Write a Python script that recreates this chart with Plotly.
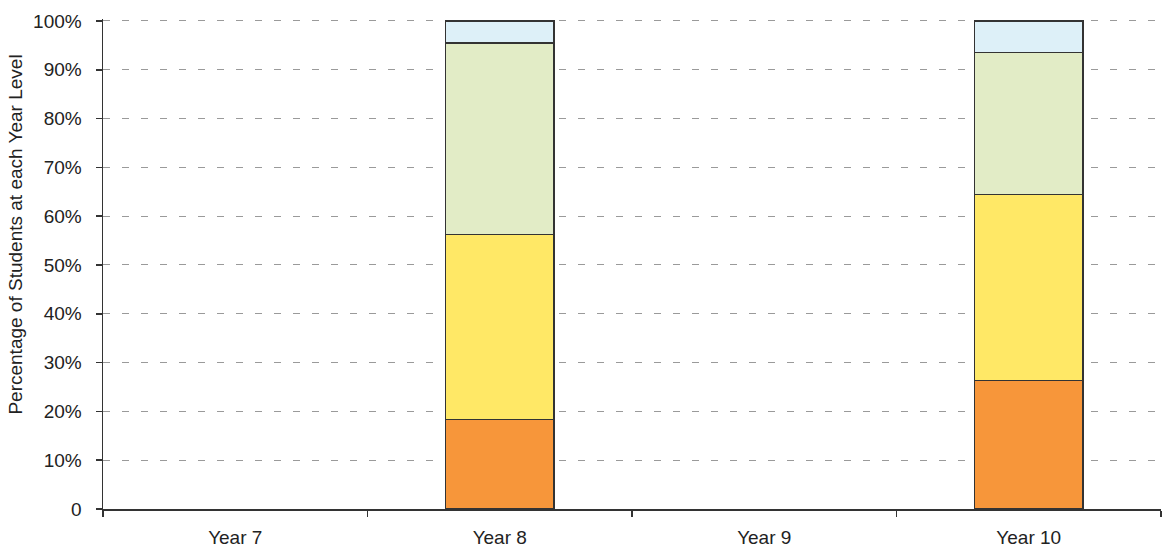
import plotly.graph_objects as go

categories = ["Year 7", "Year 8", "Year 9", "Year 10"]
band1 = [None, 18.4, None, 26.3]   # orange
band2 = [None, 37.9, None, 38.2]   # yellow
band3 = [None, 39.2, None, 29.0]   # light green
band4 = [None, 4.5, None, 6.5]     # light blue
y_tickvals = [0, 10, 20, 30, 40, 50, 60, 70, 80, 90, 100]
y_ticktext = ["0", "10%", "20%", "30%", "40%", "50%", "60%", "70%", "80%", "90%", "100%"]

colors = ["#F7963A", "#FFE866", "#E2ECC6", "#DDF0F8"]
FONT = "Liberation Sans, Arial, sans-serif"

fig = go.Figure()
for vals, col in zip([band1, band2, band3, band4], colors):
    fig.add_trace(go.Bar(
        x=categories, y=vals, marker=dict(color=col, line=dict(color="#333333", width=1.2)),
        width=0.41, showlegend=False, hoverinfo="skip",
    ))

fig.update_layout(
    barmode="stack",
    width=1162, height=549,
    margin=dict(l=103, r=1, t=19, b=40),
    plot_bgcolor="white", paper_bgcolor="white",
    font=dict(family=FONT, size=19, color="#222222"),
    xaxis=dict(
        type="category", range=[-0.5, 3.5], automargin=False,
        showline=True, linecolor="#333333", linewidth=1.5,
        ticks="outside", tickson="boundaries", ticklen=6, tickcolor="#333333", tickwidth=1.5,
        showgrid=False, tickfont=dict(size=19), fixedrange=True, ticklabelstandoff=11,
    ),
    yaxis=dict(
        range=[0, 100.4], tickvals=y_tickvals, ticktext=y_ticktext, automargin=False,
        showline=True, linecolor="#333333", linewidth=1.5,
        ticks="outside", ticklen=6, tickcolor="#333333", tickwidth=1.5,
        showgrid=True, gridcolor="#9a9a9a", griddash="7px,12px", gridwidth=1,
        zeroline=False, tickfont=dict(size=19), ticklabelstandoff=10, fixedrange=True,
    ),
    annotations=[dict(
        text="Percentage of Students at each Year Level", textangle=-90,
        xref="paper", yref="paper", x=0, y=0.56, xanchor="center", yanchor="middle",
        xshift=-87, showarrow=False, font=dict(size=19),
    )],
)

fig.write_html(
    "out.html",
    config={"displayModeBar": False, "staticPlot": True},
    post_script="document.body.style.margin='0';document.body.style.overflow='hidden';",
)
